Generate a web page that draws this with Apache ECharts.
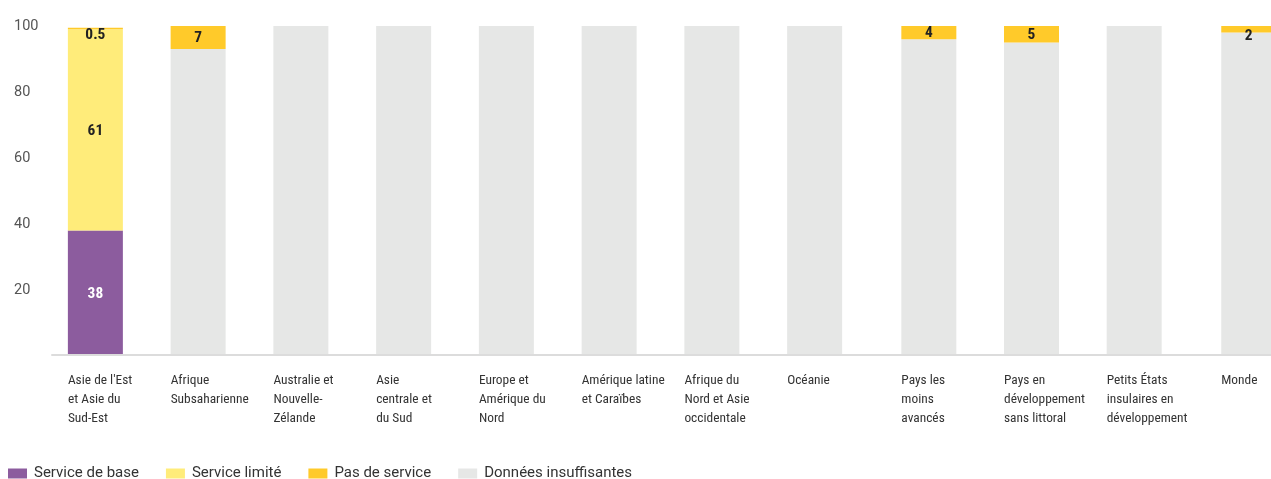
<!DOCTYPE html>
<html>
<head>
<meta charset="utf-8">
<script src="https://cdn.jsdelivr.net/npm/echarts@6/dist/echarts.min.js"></script>
<style>
  html, body { margin: 0; padding: 0; background: #fff; overflow: hidden; }
  /* the last bar runs past the right edge of the view, so the canvas is a bit wider */
  #chart { width: 1300px; height: 479px; }
</style>
</head>
<body>
<div id="chart"></div>
<script>
// Regions and groups (line breaks as printed under each bar)
const categories = [
  "Asie de l'Est\net Asie du\nSud-Est",
  "Afrique\nSubsaharienne",
  "Australie et\nNouvelle-\nZélande",
  "Asie\ncentrale et\ndu Sud",
  "Europe et\nAmérique du\nNord",
  "Amérique latine\net Caraïbes",
  "Afrique du\nNord et Asie\noccidentale",
  "Océanie",
  "Pays les\nmoins\navancés",
  "Pays en\ndéveloppement\nsans littoral",
  "Petits États\ninsulaires en\ndéveloppement",
  "Monde"
];
// Number of bars in each cluster: regions, country groups, world
const groupSizes = [8, 3, 1];

// Share of population (%) by service level
const serviceDeBase        = [38, 0, 0, 0, 0, 0, 0, 0, 0, 0, 0, 0];
const serviceLimite        = [61, 0, 0, 0, 0, 0, 0, 0, 0, 0, 0, 0];
const pasDeService         = [0.5, 7, 0, 0, 0, 0, 0, 0, 4, 5, 0, 2];
const donneesInsuffisantes = [0, 93, 100, 100, 100, 100, 100, 100, 96, 95, 100, 98];

const yTicks = { min: 0, max: 100, interval: 20 };

// Legend order
const legendNames = ['Service de base', 'Service limité', 'Pas de service', 'Données insuffisantes'];

// Stacking order from the base upward: "Pas de service" sits on top of each bar
const seriesDefs = [
  { name: 'Service de base',       values: serviceDeBase,        color: '#8c5c9e', labelColor: '#ffffff', label: true },
  { name: 'Service limité',        values: serviceLimite,        color: '#ffec7a', labelColor: '#222222', label: true },
  { name: 'Données insuffisantes', values: donneesInsuffisantes, color: '#e6e7e6', labelColor: '#222222', label: false },
  { name: 'Pas de service',        values: pasDeService,         color: '#ffca2a', labelColor: '#222222', label: true }
];

// Pick a narrow face if one is installed, and size it to the condensed look
const measureCtx = document.createElement('canvas').getContext('2d');
function textWidth(font, text) { measureCtx.font = font; return measureCtx.measureText(text).width; }
function hasFont(name) {
  const probe = 'Subsaharienne 0.5';
  return textWidth("40px '" + name + "', monospace", probe) !== textWidth('40px monospace', probe);
}
const narrowCandidates = ['Roboto Condensed', 'Liberation Sans Narrow', 'Arial Narrow', 'Nimbus Sans Narrow'];
const narrowName = narrowCandidates.find(hasFont);
const labelFont = narrowName ? "'" + narrowName + "', Roboto, sans-serif" : "Roboto, sans-serif";
const catFontSize = Math.min(14, Math.round(14 * 78 / textWidth("14px " + labelFont, 'Subsaharienne') * 10) / 10);
const valFontSize = Math.min(17, Math.round(16 * 20 / textWidth("bold 16px " + labelFont, '0.5') * 10) / 10);
const uiFont = "Roboto, 'Liberation Sans', sans-serif";

// Plot area geometry for the three clusters (canvas is 1300 wide)
const W = 1300;
const TOP = 26, BOTTOM = 123;
const gridBoxes = [
  { left: 44,     width: 822 },
  { left: 877.5,  width: 308 },
  { left: 1197.5, width: 103 }
];

const grids = [], xAxes = [], yAxes = [], series = [];
let start = 0;
groupSizes.forEach((n, g) => {
  const cats = categories.slice(start, start + n);
  grids.push({
    left: gridBoxes[g].left, right: W - gridBoxes[g].left - gridBoxes[g].width,
    top: TOP, bottom: BOTTOM, containLabel: false
  });
  xAxes.push({
    type: 'category', gridIndex: g, data: cats,
    axisLine: { show: false }, axisTick: { show: false },
    axisLabel: {
      interval: 0, margin: 15, width: 55, align: 'center',
      formatter: v => v.split('\n').map(s => '{l|' + s + '}').join('\n'),
      rich: { l: { align: 'left', fontFamily: labelFont, fontSize: catFontSize, lineHeight: 19, color: '#333' } }
    }
  });
  yAxes.push({
    type: 'value', gridIndex: g, min: yTicks.min, max: yTicks.max, interval: yTicks.interval,
    show: g === 0,
    axisLine: { show: false }, axisTick: { show: false }, splitLine: { show: false },
    axisLabel: {
      align: 'left', margin: 30, fontFamily: uiFont, fontSize: 14.5, color: '#555',
      formatter: v => (v === 0 ? '' : String(v))
    }
  });
  seriesDefs.forEach(def => {
    const vals = def.values.slice(start, start + n);
    series.push({
      type: 'bar', name: def.name, xAxisIndex: g, yAxisIndex: g, stack: 'g' + g,
      barWidth: 55,
      itemStyle: { color: def.color },
      data: vals.map(v => {
        const item = { value: v };
        if (def.label && v > 0) {
          item.label = {
            show: true, position: 'inside',
            offset: v < 3 ? [0, 7] : [0, 1],
            formatter: p => String(p.value),
            color: def.labelColor, fontFamily: labelFont, fontWeight: 'bold', fontSize: valFontSize
          };
        }
        return item;
      })
    });
  });
  start += n;
});

// Continuous baseline under all clusters, drawn over the bar bases
grids.push({ left: 52, right: 0, top: TOP, bottom: 124 });
xAxes.push({
  type: 'value', gridIndex: 3, min: 0, max: 1, z: 10,
  axisLine: { show: true, lineStyle: { color: '#dcdcdc', width: 2 } },
  axisTick: { show: false }, axisLabel: { show: false }, splitLine: { show: false }
});
yAxes.push({ type: 'value', gridIndex: 3, show: false, min: 0, max: 1 });

const chart = echarts.init(document.getElementById('chart'), null, { renderer: 'canvas' });
chart.setOption({
  animation: false,
  backgroundColor: '#ffffff',
  grid: grids,
  xAxis: xAxes,
  yAxis: yAxes,
  legend: {
    left: 8, top: 466, padding: 0,
    icon: 'rect', itemWidth: 19, itemHeight: 10, itemGap: 27,
    textStyle: { fontFamily: uiFont, fontSize: 15, color: '#333', padding: [0, 0, 0, 2] },
    data: legendNames
  },
  series: series
});
</script>
</body>
</html>
